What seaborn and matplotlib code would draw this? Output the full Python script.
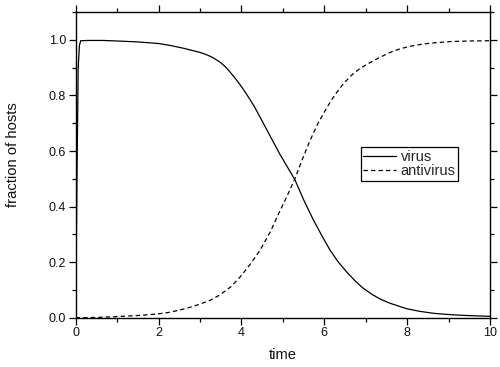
import matplotlib
matplotlib.use("Agg")
import matplotlib.pyplot as plt
from matplotlib.ticker import MultipleLocator
import seaborn as sns
import pandas as pd

# ---- data ----
virus_t = [0.0, 0.03, 0.06, 0.09, 0.12, 0.3, 0.67, 1.0, 1.47, 2.0,
           2.28, 2.6, 3.0, 3.1, 3.2, 3.3, 3.4, 3.5, 3.6, 3.7, 3.8, 3.9, 4.0,
           4.1, 4.2, 4.3, 4.45, 4.7, 4.93, 5.1,
           5.29, 5.5, 5.74, 5.95, 6.14, 6.34, 6.54, 6.74, 6.94, 7.14, 7.34,
           7.55, 7.79, 8.0, 8.3, 8.63, 8.95, 9.28, 9.6, 10.0]
virus_y = [0.0, 0.5, 0.9, 0.98, 0.997, 0.998, 0.998, 0.996, 0.993, 0.987,
           0.980, 0.970, 0.955, 0.950, 0.944, 0.937, 0.928, 0.918, 0.905, 0.889, 0.871, 0.852, 0.832,
           0.810, 0.787, 0.763, 0.722, 0.652, 0.588, 0.545,
           0.497, 0.425, 0.351, 0.293, 0.243, 0.200, 0.165, 0.133, 0.106, 0.085, 0.068,
           0.054, 0.042, 0.032, 0.023, 0.016, 0.012, 0.009, 0.007, 0.005]

anti_t = [0.0, 0.5, 1.0, 1.5, 1.95, 2.25, 2.52, 2.75, 3.0, 3.25, 3.48, 3.75,
          3.97, 4.2, 4.45, 4.7, 4.89, 5.1, 5.29, 5.47, 5.65, 5.85, 6.06, 6.26,
          6.46, 6.66, 6.86, 7.1, 7.3, 7.59, 7.83, 8.07, 8.3, 8.55, 8.8, 9.04,
          9.5, 10.0]
anti_y = [0.0, 0.001, 0.004, 0.008, 0.013, 0.019, 0.028, 0.037, 0.049, 0.063, 0.082, 0.112,
          0.147, 0.190, 0.243, 0.310, 0.372, 0.437, 0.500, 0.570, 0.636, 0.700, 0.756, 0.803,
          0.842, 0.873, 0.897, 0.918, 0.934, 0.955, 0.968, 0.977, 0.983, 0.988, 0.991, 0.994,
          0.996, 0.997]

labels = ["virus", "antivirus"]
x_ticks = [0, 2, 4, 6, 8, 10]
y_ticks = [0.0, 0.2, 0.4, 0.6, 0.8, 1.0]

sns.set_style("ticks")
plt.rcParams["font.family"] = ["Liberation Sans", "DejaVu Sans"]

fig = plt.figure(figsize=(5.0, 3.67), dpi=100)
ax = fig.add_axes([0.1514, 0.1343, 0.8286, 0.8327])

df_v = pd.DataFrame({"t": virus_t, "y": virus_y})
df_a = pd.DataFrame({"t": anti_t, "y": anti_y})
sns.lineplot(data=df_v, x="t", y="y", ax=ax, color="black", lw=0.9,
             estimator=None, sort=False, label=labels[0])
sns.lineplot(data=df_a, x="t", y="y", ax=ax, color="black", lw=0.9,
             estimator=None, sort=False, label=labels[1],
             linestyle=(0, (3.5, 2.5)))

ax.set_xlim(0, 10)
ax.set_ylim(0, 1.1)
ax.set_xticks(x_ticks)
ax.set_xticklabels([str(v) for v in x_ticks])
ax.set_yticks(y_ticks)
ax.set_yticklabels([f"{v:.1f}" for v in y_ticks])
ax.xaxis.set_minor_locator(MultipleLocator(1))
ax.yaxis.set_minor_locator(MultipleLocator(0.1))

for s in ax.spines.values():
    s.set_visible(True)
    s.set_linewidth(1.0)
    s.set_color("black")

ax.tick_params(which="both", direction="out", top=True, right=True,
               color="black", width=0.9, labelsize=9, pad=2,
               labelcolor="#111111")
ax.tick_params(which="major", length=5)
ax.tick_params(which="minor", length=2.7)

ax.set_xlabel("time", fontsize=10.6, color="#111111")
ax.set_ylabel("fraction of hosts", fontsize=10.6, color="#111111")
ax.xaxis.set_label_coords(0.5, -0.10)
ax.yaxis.set_label_coords(-0.134, 0.535)

leg = ax.legend(loc="upper left", bbox_to_anchor=(0.688, 0.557),
                fontsize=10.5, frameon=True, fancybox=False, shadow=False,
                framealpha=1, edgecolor="black", borderpad=0.15,
                labelspacing=0.05, handlelength=2.3, handletextpad=0.3,
                borderaxespad=0)
leg.get_frame().set_linewidth(0.9)

fig.savefig("out.png", dpi=100)
